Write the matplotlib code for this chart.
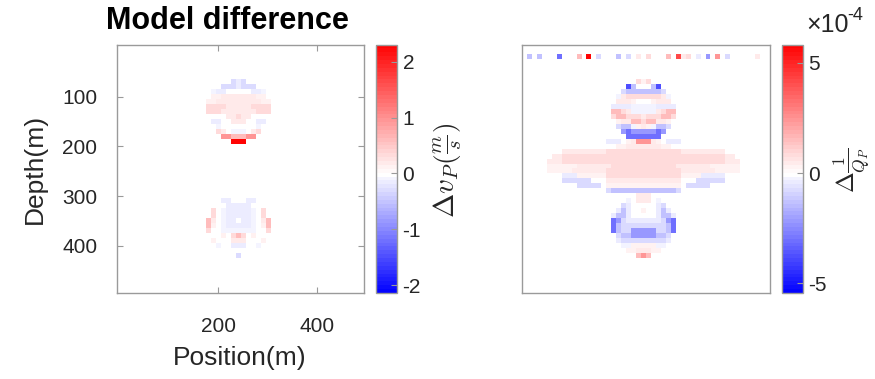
import numpy as np
import matplotlib
matplotlib.use("Agg")
import matplotlib.pyplot as plt
from matplotlib.colors import ListedColormap, Normalize

plt.rcParams['font.family'] = ['Liberation Sans', 'DejaVu Sans']
plt.rcParams['mathtext.fontset'] = 'cm'
plt.rcParams['axes.unicode_minus'] = False

# ---------------- data ----------------
n_cells = 50
cell_size = 10.0                       # m
positions = np.arange(n_cells) * cell_size   # cell centres 0..490 m
depths = np.arange(n_cells) * cell_size

# colour-level codes (fraction of the colour limit on that side of zero)
levels = {'.': 0.0,
          'a': -0.04, 'b': -0.08, 'c': -0.15, 'd': -0.25, 'e': -0.40,
          'f': -0.55, 'g': -0.70, 'h': -0.85, 'k': -1.0,
          '1': 0.04, '2': 0.08, '3': 0.15, '4': 0.25, '5': 0.40,
          '6': 0.55, '7': 0.70, '8': 0.85, '9': 1.0}

vp_clim = (-2.14, 2.31)          # m/s
qp_clim = (-5.45e-4, 5.84e-4)

# (row, first column, codes) for the velocity difference
vp_cells = [
    (7, 17, "......cbc......"),
    (8, 17, "....cccbccc...."),
    (9, 17, "..abb.....bba.."),
    (10, 17, "..11222222211.."),
    (11, 17, ".1122222222211."),
    (12, 17, ".3333222223333."),
    (13, 17, ".3332222222333."),
    (14, 17, ".....22322....."),
    (15, 17, "..bb..222..bb.."),
    (16, 17, "...a.......a..."),
    (17, 17, "...32.aaa.23..."),
    (18, 17, "....5544455...."),
    (19, 17, "......999......"),
    (31, 17, "....bb...bb...."),
    (32, 17, ".....bbbbb....."),
    (33, 17, "..3.abbbbba.3.."),
    (34, 17, "..3.abbbbba.3.."),
    (35, 17, ".42.abb.bba.24."),
    (36, 17, ".41.abbbbba.14."),
    (37, 17, ".3..aaaaaaa..3."),
    (38, 17, "....1.343.1...."),
    (39, 17, "..1...222...1.."),
    (40, 17, "...a..bbb..a..."),
    (42, 17, ".......c......."),
]

# (row, first column, codes) for the attenuation difference
qp_cells = [
    (2, 1, "d.d...f...4.9.c...d.c.2.3...4.723.b.e.5.c.....2"),
    (7, 23, "313"),
    (8, 21, "gd...dg"),
    (9, 20, "cdddddddc"),
    (10, 19, "a233333332a"),
    (11, 19, "2221...1222"),
    (12, 18, "bbbbaaaaabbbb"),
    (13, 18, "4432aaaaa2344"),
    (14, 18, "3443332333443"),
    (15, 19, "12244344221"),
    (16, 19, "cdda121addc"),
    (17, 20, "efeeeeefe"),
    (18, 21, "fffffff"),
    (19, 17, "bbb.1255521.bbb"),
    (20, 19, "11222222211"),
    (21, 8, "222222222333333333333333222222222"),
    (22, 6, "2233333333333333333333333333333333322"),
    (23, 5, "222333333333333333333333333333333333222"),
    (24, 5, "111111222222233333333333332222222111111"),
    (25, 5, "111112222222333333333333333222222211111"),
    (26, 8, "bbb1111113333333333333331111bbbbb"),
    (27, 8, "cccccc...222222222222222...cccccc"),
    (28, 11, "ccccc.111111111111111.ccccc"),
    (29, 17, "cdddddddddddddc"),
    (30, 23, "222"),
    (31, 21, "a.222.a"),
    (32, 20, "cb.....bc"),
    (33, 19, "bdb..1..bdb"),
    (34, 18, "bddb.....bddb"),
    (35, 18, "fecbbbbbbbcef"),
    (36, 18, "fdcccccccccdf"),
    (37, 18, "fdcceeeeeccdf"),
    (38, 19, "cddeeeeeddc"),
    (39, 19, "bcccccccccb"),
    (40, 20, "aa11111aa"),
    (41, 21, "1122211"),
    (42, 23, "454"),
]

x_ticks = [200, 400]
y_ticks = [100, 200, 300, 400]
vp_cticks = [-2, -1, 0, 1, 2]
qp_cticks = [-5e-4, 0, 5e-4]
qp_cticklabels = ['-5', '0', '5']


def build(cells, clim):
    arr = np.zeros((n_cells, n_cells))
    lo, hi = clim
    for r, c0, codes in cells:
        for k, ch in enumerate(codes):
            f = levels[ch]
            arr[r, c0 + k] = f * hi if f > 0 else -f * lo
    return arr


def bwr_cmap(clim, n=64):
    """blue-white-red map that is white at zero for asymmetric limits"""
    lo, hi = clim
    vals = lo + (np.arange(n) + 0.5) / n * (hi - lo)
    cols = []
    for v in vals:
        if v < 0:
            f = v / lo
            cols.append((1 - f, 1 - f, 1.0))
        else:
            f = v / hi
            cols.append((1.0, 1 - f, 1 - f))
    z = int((0 - lo) / (hi - lo) * n)
    cols[z] = (1.0, 1.0, 1.0)
    return ListedColormap(cols)


vp = build(vp_cells, vp_clim)
qp = build(qp_cells, qp_clim)

# ---------------- figure ----------------
W, H = 875, 379
fig = plt.figure(figsize=(W / 100, H / 100), dpi=100)


def rect(x0, y0, x1, y1):
    return [x0 / W, 1 - y1 / H, (x1 - x0) / W, (y1 - y0) / H]


ax1 = fig.add_axes(rect(116.7, 44.5, 364, 293))
cax1 = fig.add_axes(rect(376, 44.5, 397, 293))
ax2 = fig.add_axes(rect(522, 44.5, 770, 293))
cax2 = fig.add_axes(rect(782, 44.5, 803, 293))

half = cell_size / 2
ext = [positions[0] - half, positions[-1] + half, depths[-1] + half, depths[0] - half]

edge = '#9a9a9a'
txt = '#262626'

im1 = ax1.imshow(vp, cmap=bwr_cmap(vp_clim), norm=Normalize(*vp_clim), extent=ext,
                 interpolation='nearest', aspect='auto')
im2 = ax2.imshow(qp, cmap=bwr_cmap(qp_clim), norm=Normalize(*qp_clim), extent=ext,
                 interpolation='nearest', aspect='auto')

for ax in (ax1, ax2):
    for s in ax.spines.values():
        s.set_color(edge)
        s.set_linewidth(1.0)

ax1.set_xticks(x_ticks)
ax1.set_yticks(y_ticks)
ax1.tick_params(direction='in', length=4, width=0.8, color=edge, top=True, right=True,
                labelsize=15, labelcolor=txt)
ax1.tick_params(axis='x', pad=17)
ax1.tick_params(axis='y', pad=14)
ax2.set_xticks([])
ax2.set_yticks([])

cb1 = fig.colorbar(im1, cax=cax1, ticks=vp_cticks)
cb2 = fig.colorbar(im2, cax=cax2, ticks=qp_cticks)
cb2.ax.set_yticklabels(qp_cticklabels)
for cb in (cb1, cb2):
    cb.outline.set_edgecolor(edge)
    cb.outline.set_linewidth(1.0)
    cb.ax.tick_params(direction='in', length=4, width=0.8, color=edge,
                      labelsize=15, labelcolor=txt, pad=4)

fig.text(227 / W, 1 - 21 / H, 'Model difference', fontsize=22, fontweight='bold',
         ha='center', va='center', color='black')
fig.text(240 / W, 1 - 358 / H, 'Position(m)', fontsize=19, ha='center', va='center', color=txt)
fig.text(35 / W, 1 - 169 / H, 'Depth(m)', fontsize=19, ha='center', va='center',
         rotation=90, color=txt)

fig.text(448 / W, 1 - 170 / H, r'$\Delta v_P\left(\frac{m}{s}\right)$', fontsize=21,
         ha='center', va='center', rotation=90, color=txt)
fig.text(852 / W, 1 - 170 / H, r'$\Delta\frac{1}{Q_P}$', fontsize=18,
         ha='center', va='center', rotation=90, color=txt)

fig.text(806 / W, 1 - 25 / H, '×10', fontsize=18, ha='left', va='center', color=txt)
fig.text(847 / W, 1 - 16 / H, '-4', fontsize=13, ha='left', va='center', color=txt)

fig.savefig('out.png', dpi=100)
